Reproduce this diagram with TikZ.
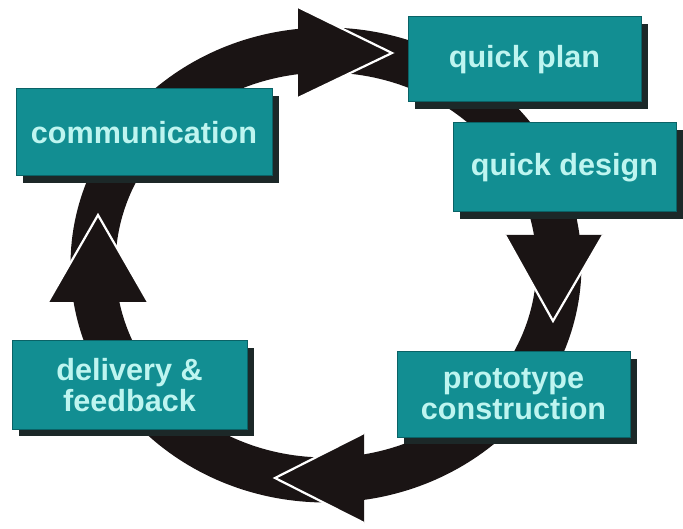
\documentclass[tikz,border=0pt]{standalone}
\usepackage{fontspec}
\setmainfont{Liberation Sans}
\usetikzlibrary{shadows}
\definecolor{T}{RGB}{18, 142, 146}
\definecolor{E}{RGB}{10, 98, 102}
\definecolor{S}{RGB}{28, 40, 40}
\definecolor{K}{RGB}{26, 20, 20}
\definecolor{L}{RGB}{190, 245, 240}
\newcommand{\ringhead}[3]{%
  \fill[K] (#1) -- (#2) -- (#3) -- cycle;
  \draw[white, line width=2.2pt, miter limit=10] (#1) -- (#2) -- (#3);}

\begin{document}
\begin{tikzpicture}[x=1pt, y=-1pt,
  stage/.style={rectangle, fill=T, draw=E, line width=1pt, text=L,
    font=\bfseries\fontsize{30.6}{31}\selectfont, align=center, inner sep=0pt,
    drop shadow={shadow xshift=7pt, shadow yshift=-7pt, fill=S, opacity=1}}]
  \useasboundingbox[fill=white] (0,0) rectangle (683,529);

  %# ANILLO
  \draw[K, line width=45pt] (326,265) ellipse [x radius=233, y radius=215];

  %# PUNTAS DEL ANILLO
  \ringhead{298,7}{392,53}{298,98}
  \ringhead{505,235}{553,321}{603,235}
  \ringhead{364,433}{275,478}{364,523}
  \ringhead{148,302}{98,215}{48,302}

  %# ETAPAS
  \node (comm) [stage, minimum width=256pt, minimum height=87pt] at (144,132.5) {communication};
  \node (plan) [stage, minimum width=233pt, minimum height=85pt] at (524.5,59.5) {quick plan};
  \node (design) [stage, minimum width=223pt, minimum height=89pt] at (564.5,167.5) {quick design};
  \node (proto) [stage, minimum width=233pt, minimum height=85pt] at (513.5,394.5) {prototype\\construction};
  \node (deliv) [stage, minimum width=235pt, minimum height=88pt] at (129.5,385) {delivery \&\\feedback};
\end{tikzpicture}
\end{document}
